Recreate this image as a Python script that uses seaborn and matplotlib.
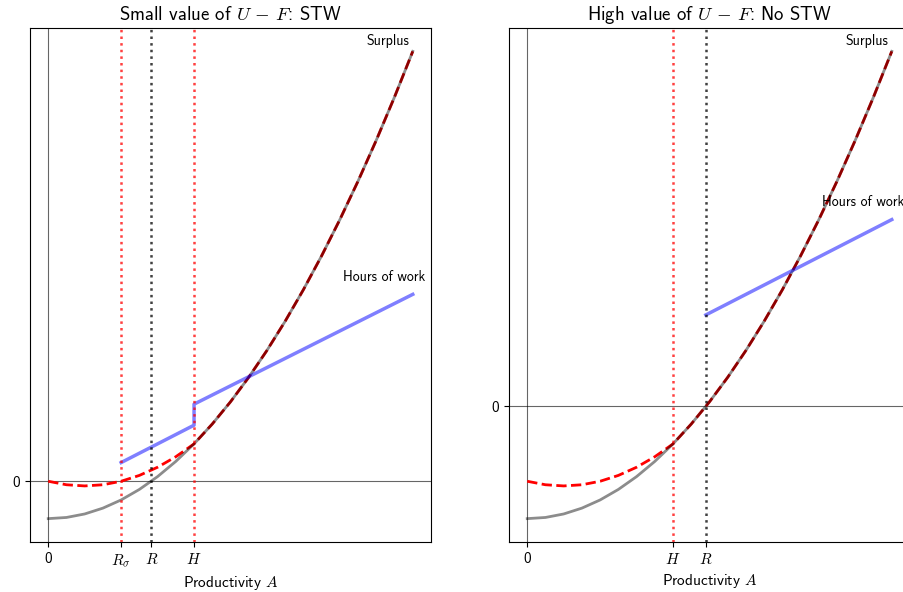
import numpy as np
import pandas as pd
import matplotlib
matplotlib.use("Agg")
import matplotlib.pyplot as plt
import seaborn as sns

plt.rcParams['font.family'] = ['cmss10', 'DejaVu Sans']
plt.rcParams['mathtext.fontset'] = 'cm'
plt.rcParams['axes.unicode_minus'] = False
plt.rcParams['axes.formatter.use_mathtext'] = True

# Productivity grid
A = [0.0, 0.05, 0.10, 0.15, 0.20, 0.25, 0.30, 0.35, 0.40, 0.45, 0.50,
     0.55, 0.60, 0.65, 0.70, 0.75, 0.80, 0.85, 0.90, 0.95, 1.00]

# Left panel: small U-F (STW)
left_surplus = [-0.08, -0.0775, -0.07, -0.0575, -0.04, -0.0175, 0.01, 0.0425, 0.08,
                0.1225, 0.17, 0.2225, 0.28, 0.3425, 0.41, 0.4825, 0.56, 0.6425, 0.73,
                0.8225, 0.92]
left_surplus_stw = [0.0, -0.0075, -0.01, -0.0075, 0.0, 0.0125, 0.03, 0.0525, 0.08,
                    0.1225, 0.17, 0.2225, 0.28, 0.3425, 0.41, 0.4825, 0.56, 0.6425, 0.73,
                    0.8225, 0.92]
left_hours_A = [0.20, 0.40, 0.40, 1.00]
left_hours = [0.04, 0.12, 0.165, 0.40]
left_Rsigma, left_R, left_H = 0.20, 0.283, 0.40

# Right panel: high U-F (no STW)
right_surplus = [-0.24, -0.2375, -0.23, -0.2175, -0.20, -0.1775, -0.15, -0.1175, -0.08,
                 -0.0375, 0.01, 0.0625, 0.12, 0.1825, 0.25, 0.3225, 0.40, 0.4825, 0.57,
                 0.6625, 0.76]
right_surplus_stw = [-0.16, -0.1675, -0.17, -0.1675, -0.16, -0.1475, -0.13, -0.1075, -0.08,
                     -0.0375, 0.01, 0.0625, 0.12, 0.1825, 0.25, 0.3225, 0.40, 0.4825, 0.57,
                     0.6625, 0.76]
right_hours_A = [0.49, 1.00]
right_hours = [0.196, 0.40]
right_H, right_R = 0.40, 0.49

fig = plt.figure(figsize=(9.04, 5.92), dpi=100)
W, Hf = 904.0, 592.0
ax1 = fig.add_axes([30 / W, (592 - 542) / Hf, 401 / W, 514 / Hf])
ax2 = fig.add_axes([509 / W, (592 - 542) / Hf, 401 / W, 514 / Hf])


def draw(ax, surplus, surplus_stw, hA, hours, vlines, ticks, ticklabels, title, hours_xy, surplus_xy):
    ax.axhline(0, color='k', lw=0.8, alpha=0.6)
    ax.axvline(0, color='k', lw=0.8, alpha=0.6)
    sns.lineplot(x=A, y=surplus_stw, ax=ax, color='r', lw=2, linestyle='--',
                 estimator=None, sort=False)
    sns.lineplot(x=A, y=surplus, ax=ax, color='k', alpha=0.45, lw=2,
                 estimator=None, sort=False)
    sns.lineplot(x=hA, y=hours, ax=ax, color='b', alpha=0.5, lw=2.5,
                 estimator=None, sort=False)
    for xv, col in vlines:
        ax.axvline(xv, color=col, linestyle=':', lw=1.8, alpha=0.75)
    ax.set_xticks(ticks)
    ax.set_xticklabels(ticklabels, fontsize=11)
    ax.set_yticks([0])
    ax.set_yticklabels(['0'], fontsize=11)
    ax.set_xlabel('Productivity $A$', fontsize=11)
    ax.set_title(r'%s' % title, fontsize=13.5)
    ax.text(surplus_xy[0], surplus_xy[1], 'Surplus', ha='right', va='bottom', fontsize=10)
    ax.text(hours_xy[0], hours_xy[1], 'Hours of work', ha='right', va='bottom', fontsize=10)
    ymin = min(min(surplus), min(surplus_stw))
    ymax = max(max(surplus), max(surplus_stw))
    pad = 0.05 * (ymax - ymin)
    ax.set_ylim(ymin - pad, ymax + pad)
    ax.set_xlim(-0.05, 1.05)


draw(ax1, left_surplus, left_surplus_stw, left_hours_A, left_hours,
     [(left_Rsigma, 'r'), (left_R, 'k'), (left_H, 'r')],
     [0, left_Rsigma, left_R, left_H], ['0', r'$R_\sigma$', r'$R$', r'$H$'],
     r'Small value of $U\,-\,F$: STW', (1.033, 0.423), (0.99, 0.927))
draw(ax2, right_surplus, right_surplus_stw, right_hours_A, right_hours,
     [(right_H, 'r'), (right_R, 'k')],
     [0, right_H, right_R], ['0', r'$H$', r'$R$'],
     r'High value of $U\,-\,F$: No STW', (1.033, 0.423), (0.99, 0.767))

fig.savefig('out.png', dpi=100)
